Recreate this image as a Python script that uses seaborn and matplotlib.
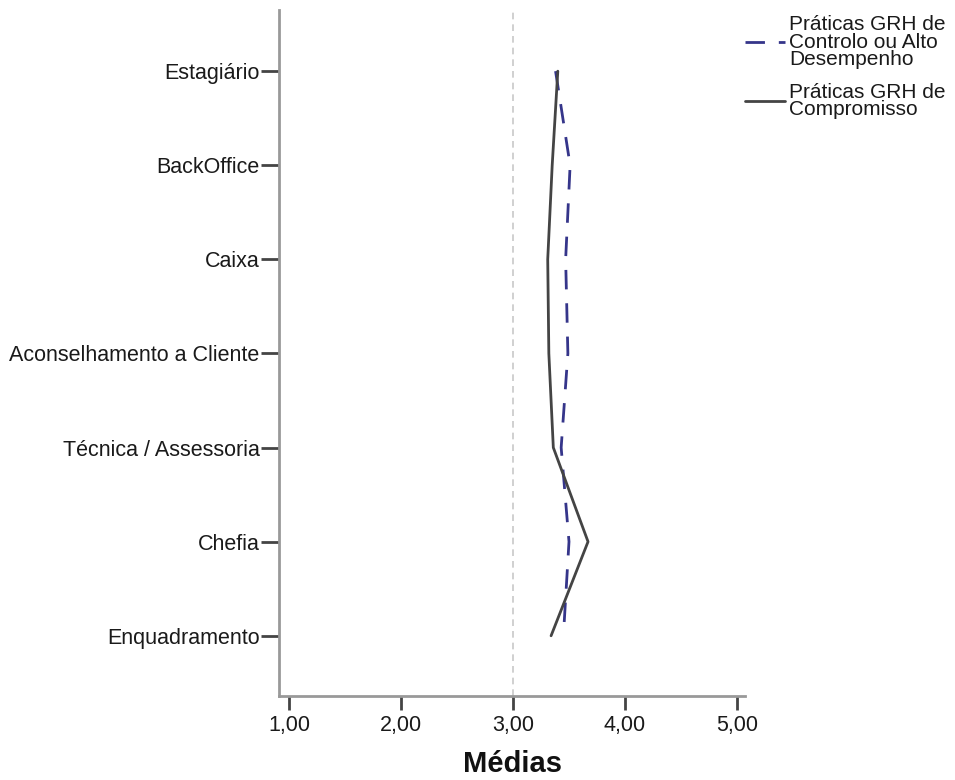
import matplotlib
matplotlib.use("Agg")
import matplotlib.pyplot as plt
import pandas as pd
import seaborn as sns

# Job categories, top to bottom
categorias = [
    "Estagiário",
    "BackOffice",
    "Caixa",
    "Aconselhamento a Cliente",
    "Técnica / Assessoria",
    "Chefia",
    "Enquadramento",
]

# Mean scores per category for each group of HRM practices
controlo = [3.38, 3.51, 3.47, 3.49, 3.43, 3.50, 3.45]
compromisso = [3.40, 3.35, 3.31, 3.32, 3.36, 3.67, 3.34]

serie_controlo = "Práticas GRH de\nControlo ou Alto\nDesempenho"
serie_compromisso = "Práticas GRH de\nCompromisso"

x_ticks = [1, 2, 3, 4, 5]
x_labels = ["1,00", "2,00", "3,00", "4,00", "5,00"]

df = pd.DataFrame({
    "Média": controlo + compromisso,
    "pos": list(range(len(categorias))) * 2,
    "Série": [serie_controlo] * len(categorias) + [serie_compromisso] * len(categorias),
})

sns.set_theme(style="white")
plt.rcParams["font.family"] = ["Liberation Sans", "DejaVu Sans"]

fig = plt.figure(figsize=(9.55, 7.8), dpi=100)
ax = fig.add_axes([279 / 955, 1 - 696 / 780, (745 - 279) / 955, (696 - 10) / 780])

ax.axvline(3, color="#c8c8c8", lw=1.2, ls=(0, (4, 3)), zorder=0)

sns.lineplot(
    data=df, x="Média", y="pos", hue="Série", style="Série",
    palette={serie_controlo: "#35358a", serie_compromisso: "#444444"},
    dashes={serie_controlo: (7, 5), serie_compromisso: ""},
    sort=False, orient="y", estimator=None, linewidth=2, ax=ax,
)

ax.set_xlim(1 - 10 / 112, 5 + 8 / 112)
ax.set_ylim(6.64, -0.65)
ax.set_yticks(range(len(categorias)))
ax.set_yticklabels(categorias)
ax.set_xticks(x_ticks)
ax.set_xticklabels(x_labels)
ax.set_ylabel("")
ax.set_xlabel("Médias", fontsize=21, fontweight="bold", labelpad=10, color="#111111")

for side in ["top", "right"]:
    ax.spines[side].set_visible(False)
for side in ["left", "bottom"]:
    ax.spines[side].set_color("#999999")
    ax.spines[side].set_linewidth(2)

ax.tick_params(axis="y", length=13, width=2, color="#444444", labelsize=15.5,
               labelcolor="#1a1a1a", pad=1, left=True)
ax.tick_params(axis="x", length=10, width=2, color="#444444", labelsize=15.5,
               labelcolor="#1a1a1a", pad=4, bottom=True)

handles, labels = ax.get_legend_handles_labels()
ax.get_legend().remove()
fig.legend(
    handles, labels, loc="upper left", bbox_to_anchor=(745 / 955, 1 - 15 / 780),
    frameon=False, fontsize=15, handlelength=1.9, handletextpad=0.2,
    borderaxespad=0, borderpad=0, labelspacing=0.65, labelcolor="#1a1a1a",
)
for t in fig.legends[0].get_texts():
    t.set_linespacing(0.9)

fig.savefig("out.png", dpi=100)
